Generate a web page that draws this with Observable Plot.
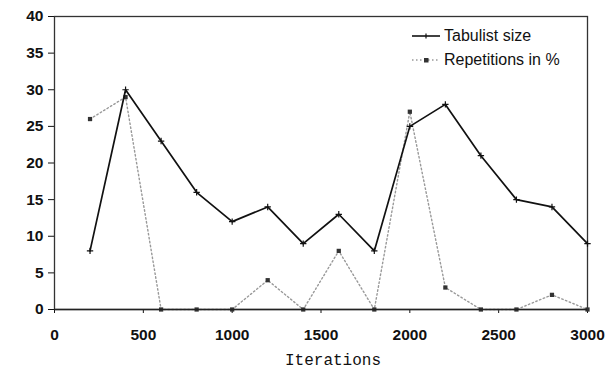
<!DOCTYPE html>
<html><head><meta charset="utf-8">
<script src="https://cdn.jsdelivr.net/npm/d3@7"></script>
<script src="https://cdn.jsdelivr.net/npm/@observablehq/plot@0.6"></script>
<style>
body{margin:0;background:#fff;}
#wrap{position:relative;width:606px;height:371px;}
#legend{position:absolute;left:410px;top:24px;font-family:"Liberation Sans",Arial,sans-serif;font-size:16px;color:#111;line-height:24px;}
#legend div{display:flex;align-items:center;}
#legend svg{margin-right:2px;}
#chart svg g[aria-label$="tick label"] text{font-weight:bold;}
</style></head><body>
<div id="wrap"><div id="chart"></div>
<div id="legend">
<div><svg width="32" height="12"><line x1="2" x2="30" y1="6" y2="6" stroke="#111" stroke-width="1.6"/><line x1="16" x2="16" y1="3.5" y2="8.5" stroke="#111" stroke-width="1.2"/></svg>Tabulist size</div>
<div><svg width="32" height="12"><line x1="2" x2="30" y1="6" y2="6" stroke="#999" stroke-width="1.4" stroke-dasharray="1.5,2.5"/><rect x="14" y="4" width="4.5" height="4.5" fill="#333"/></svg>Repetitions in %</div>
</div></div>
<script>
const iterations = [200,400,600,800,1000,1200,1400,1600,1800,2000,2200,2400,2600,2800,3000];
const tabulistSize = [8,30,23,16,12,14,9,13,8,25,28,21,15,14,9];
const repetitions = [26,29,0,0,0,4,0,8,0,27,3,0,0,2,0];
const xTicks = [0,500,1000,1500,2000,2500,3000];
const yTicks = [0,5,10,15,20,25,30,35,40];

const tab = iterations.map((x,i)=>({x, y: tabulistSize[i]}));
const rep = iterations.map((x,i)=>({x, y: repetitions[i]}));

const chart = Plot.plot({
  width: 606, height: 371,
  marginLeft: 54, marginRight: 19, marginTop: 16, marginBottom: 62,
  style: {fontFamily: '"Liberation Sans", Arial, sans-serif', fontSize: "15.5px", color: "#111", background: "#fff"},
  x: {domain: [0,3000], ticks: xTicks, tickFormat: d => String(d), label: null, tickSize: 4, tickPadding: 15},
  y: {domain: [0,40], ticks: yTicks, tickFormat: d => String(d), label: null, tickSize: 6, tickPadding: 5},
  marks: [
    Plot.frame({stroke: "#333", strokeWidth: 1.3}),
    Plot.line(rep, {x: "x", y: "y", stroke: "#999", strokeWidth: 1.4, strokeDasharray: "1.5,2.5"}),
    Plot.dot(rep, {x: "x", y: "y", symbol: "square", r: 2.4, fill: "#333"}),
    Plot.line(tab, {x: "x", y: "y", stroke: "#111", strokeWidth: 1.7}),
    Plot.dot(tab, {x: "x", y: "y", symbol: "plus", r: 2.2, stroke: "#111", strokeWidth: 1.2}),
    Plot.ruleY([0], {stroke: "#222", strokeWidth: 1.4})
  ]
});
document.getElementById("chart").appendChild(chart);
const svg = d3.select(chart);
svg.append("text").attr("x", 333).attr("y", 365).attr("text-anchor","middle")
  .attr("font-family", '"Liberation Mono", "Courier New", monospace').attr("font-size", 16).attr("font-weight","normal")
  .attr("fill","#111").text("Iterations");
</script>
</body></html>
